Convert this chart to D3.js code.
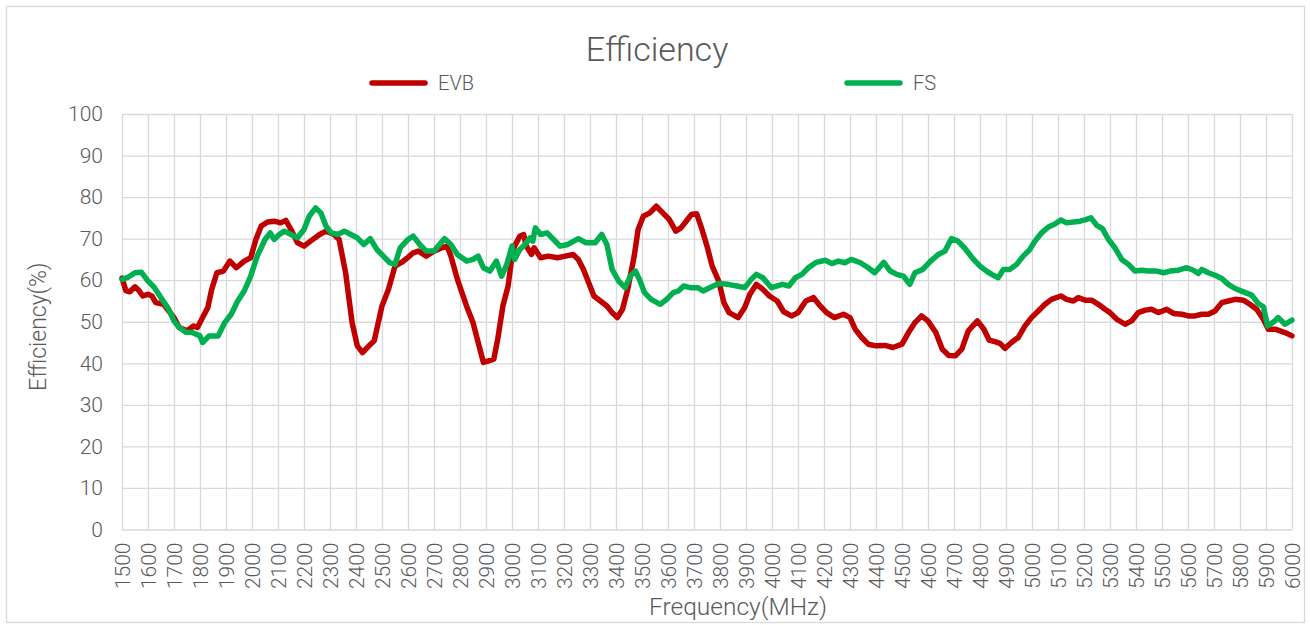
<!DOCTYPE html>
<html>
<head>
<meta charset="utf-8">
<script src="https://cdn.jsdelivr.net/npm/d3@7"></script>
<style>
  html, body { margin: 0; padding: 0; background: #fff; }
  svg { display: block; font-family: Roboto, "Liberation Sans", sans-serif; font-weight: 300; }
</style>
</head>
<body>
<svg id="chart" width="1310" height="625"></svg>
<script>
// ---- data ----
const title = "Efficiency";
const xTitle = "Frequency(MHz)";
const yTitle = "Efficiency(%)";
const seriesNames = ["EVB", "FS"];
const seriesColors = ["#C00000", "#00B050"];
const xTicks = d3.range(1500, 6001, 100);
const yTicks = d3.range(0, 101, 10);

const evbFreq = [1500,1515,1530,1550,1565,1580,1600,1615,1630,1660,1680,1700,1720,1750,1775,1790,1810,1830,1845,1865,1890,1915,1940,1970,1995,2015,2035,2060,2085,2110,2130,2150,2175,2200,2225,2260,2285,2315,2335,2360,2385,2405,2425,2450,2470,2500,2525,2550,2580,2600,2620,2640,2670,2700,2730,2750,2765,2790,2825,2850,2870,2890,2910,2930,2945,2965,2985,3000,3010,3030,3045,3055,3075,3085,3110,3140,3175,3205,3235,3255,3275,3295,3315,3340,3365,3385,3405,3425,3445,3470,3485,3505,3530,3555,3580,3605,3630,3650,3670,3690,3710,3730,3750,3770,3795,3815,3835,3870,3895,3915,3940,3965,3990,4020,4045,4075,4100,4130,4160,4180,4210,4240,4275,4300,4320,4345,4370,4400,4435,4465,4500,4525,4550,4575,4600,4630,4655,4680,4705,4730,4755,4790,4815,4835,4857,4877,4896,4921,4947,4973,4998,5024,5050,5075,5111,5133,5159,5178,5204,5229,5255,5281,5300,5326,5358,5383,5409,5435,5460,5486,5518,5544,5576,5601,5627,5653,5678,5704,5730,5755,5781,5813,5838,5864,5890,5909,5935,5954,5973,6000];
const evbEff = [60.5,57.5,57.2,58.4,57.5,56.2,56.6,56.2,54.6,54.2,52.6,51,48.6,47.8,49,48.6,51,53.4,57.8,61.8,62.2,64.6,63,64.6,65.4,69.8,73,74,74.2,73.8,74.4,72.2,69,68.2,69.4,71,71.8,71,69.8,61.8,49.8,44.2,42.6,44.2,45.4,53.8,57.8,63.4,64.5,65.5,66.6,67,65.8,67,67.8,68.2,65.8,60.2,53.8,49.8,45,40.2,40.6,41,45.8,53.8,58.6,65.8,68.2,70.6,71,68.2,66.2,67.8,65.4,65.8,65.4,65.8,66.2,65,62.6,59.4,56.2,55,53.8,52.2,51,53,57.8,65.8,72.2,75.4,76.2,77.8,76.2,74.6,71.8,72.6,74.2,75.8,76,72.4,68.2,63.4,59.8,54.6,52.2,51,53.4,56.6,59,57.8,56.2,55,52.4,51.4,52.2,55,55.8,54.2,52.2,51,51.8,51,48.2,46.2,44.6,44.2,44.3,43.8,44.6,47.4,49.8,51.4,50.2,47.4,43.4,41.9,41.8,43.4,47.8,50.2,48.2,45.6,45.2,44.8,43.6,45,46.2,49,51,52.6,54.2,55.4,56.2,55.4,55,55.8,55.2,55.2,54.2,53,52.2,50.6,49.4,50.2,52.2,52.8,53,52.2,53,52,51.8,51.4,51.4,51.8,51.8,52.6,54.6,55,55.4,55.2,54.2,53,50.6,48.2,48.2,47.8,47.4,46.6];

const fsFreq = [1500,1520,1550,1575,1600,1625,1650,1680,1700,1720,1745,1770,1800,1810,1835,1870,1895,1920,1945,1970,1995,2020,2050,2070,2085,2105,2125,2150,2175,2200,2220,2245,2265,2285,2305,2330,2355,2380,2405,2430,2455,2480,2505,2530,2550,2570,2600,2620,2645,2670,2700,2740,2765,2790,2825,2850,2870,2890,2915,2940,2960,2980,3000,3010,3030,3050,3070,3080,3090,3110,3135,3160,3185,3215,3255,3285,3320,3345,3365,3385,3410,3435,3455,3475,3490,3510,3535,3570,3595,3620,3640,3660,3685,3715,3735,3760,3795,3830,3865,3895,3920,3940,3965,3998,4040,4065,4090,4115,4140,4170,4205,4230,4255,4280,4305,4340,4370,4395,4430,4455,4480,4505,4530,4550,4580,4610,4640,4665,4690,4715,4740,4770,4800,4825,4845,4870,4890,4915,4941,4966,4992,5011,5037,5063,5088,5111,5133,5159,5185,5204,5227,5249,5271,5294,5319,5345,5371,5396,5422,5448,5480,5506,5531,5563,5595,5621,5640,5653,5678,5704,5730,5755,5781,5813,5845,5870,5890,5906,5928,5947,5973,6000];
const fsEff = [60.2,60.6,61.8,61.9,59.8,58.2,55.8,53,50.2,48.6,47.5,47.4,46.6,45,46.6,46.6,49.8,51.8,55,57.4,61,65.8,69.8,71.4,69.8,71,71.8,71,70.2,72.2,75.4,77.4,76.2,73,71.4,71,71.8,71,70.2,68.6,70,67.4,65.8,64.2,63.8,67.8,69.8,70.6,68.6,67,67,70,68.6,66.2,64.6,65,65.8,63,62.2,64.6,61,63.8,68.2,65,67.4,68.6,70.2,69.4,72.6,71,71.4,69.8,68.2,68.6,70,69,69,71,68.6,62.6,59.8,58.2,61,62.2,60.2,57,55.4,54.2,55.4,57,57.4,58.6,58.2,58.2,57.4,58.2,59.2,59,58.6,58.2,60.2,61.4,60.6,58.2,59,58.6,60.6,61.4,63,64.3,64.8,64,64.6,64.2,65,64.2,63,61.8,64.3,62.2,61.4,61,59,61.8,62.6,64.6,66.2,67,70,69.4,67.8,65.4,63.4,62.2,61.4,60.6,62.6,62.6,63.8,65.8,67.4,69.4,71.4,72.8,73.5,74.5,73.8,74,74.2,74.5,75,73.2,72.4,69.8,67.8,65,63.8,62.2,62.4,62.2,62.2,61.8,62.2,62.4,63,62.4,61.6,62.6,61.8,61.2,60.4,59,58,57.2,56.4,54.4,53.6,49,49.9,51,49.4,50.4];

// ---- layout ----
const svg = d3.select("#chart");
const plot = { left: 122, right: 1292, top: 114, bottom: 529.5 };
const x = d3.scaleLinear().domain([1500, 6000]).range([plot.left, plot.right]);
const y = d3.scaleLinear().domain([0, 100]).range([plot.bottom, plot.top]);
const textColor = "#595959";
const gridColor = "#D9D9D9";
const font = "Roboto, sans-serif";

// outer border
svg.append("rect").attr("x", 6.5).attr("y", 6.5).attr("width", 1298).attr("height", 616)
  .attr("fill", "#fff").attr("stroke", gridColor).attr("stroke-width", 1.3);

// y axis with horizontal gridlines
const yAxis = svg.append("g").attr("transform", `translate(${plot.left},0)`)
  .call(d3.axisLeft(y).tickValues(yTicks).tickSize(-(plot.right - plot.left)).tickPadding(19).tickFormat(d3.format("d")));
yAxis.select(".domain").remove();
yAxis.selectAll(".tick line").attr("stroke", gridColor).attr("stroke-width", 1.3);
yAxis.selectAll(".tick text").attr("fill", textColor).attr("font-size", 21).attr("font-family", font).attr("font-weight", 300);

// x axis with vertical gridlines
const xAxis = svg.append("g").attr("transform", `translate(0,${plot.bottom})`)
  .call(d3.axisBottom(x).tickValues(xTicks).tickSize(-(plot.bottom - plot.top)).tickFormat(d3.format("d")));
xAxis.select(".domain").remove();
xAxis.selectAll(".tick line").attr("stroke", gridColor).attr("stroke-width", 1.3);
xAxis.selectAll(".tick text")
  .attr("fill", textColor).attr("font-size", 21).attr("font-family", font).attr("font-weight", 300)
  .attr("transform", "translate(0,13) rotate(-90)")
  .attr("text-anchor", "end").attr("dy", "0.35em").attr("x", 0).attr("y", 0);

// lines
const line = d3.line().x(d => x(d[0])).y(d => y(d[1])).curve(d3.curveLinear);
const evbData = d3.zip(evbFreq, evbEff);
const fsData = d3.zip(fsFreq, fsEff);
[evbData, fsData].forEach((data, i) => {
  svg.append("path").datum(data).attr("d", line)
    .attr("fill", "none").attr("stroke", seriesColors[i]).attr("stroke-width", 5.5)
    .attr("stroke-linejoin", "round").attr("stroke-linecap", "round");
});

// title
svg.append("text").attr("x", 657).attr("y", 61).attr("text-anchor", "middle")
  .attr("font-size", 34).attr("fill", textColor).text(title);

// legend
const legendX = [372, 847];
seriesNames.forEach((name, i) => {
  svg.append("line").attr("x1", legendX[i]).attr("x2", legendX[i] + 53)
    .attr("y1", 83).attr("y2", 83).attr("stroke", seriesColors[i]).attr("stroke-width", 5.5)
    .attr("stroke-linecap", "round");
  svg.append("text").attr("x", legendX[i] + 66).attr("y", 83).attr("dy", "0.35em")
    .attr("font-size", 20).attr("fill", textColor).text(name);
});

// axis titles
svg.append("text").attr("transform", `translate(46,${(plot.top + plot.bottom) / 2 + 5}) rotate(-90)`)
  .attr("text-anchor", "middle").attr("font-size", 23).attr("fill", textColor).text(yTitle);
svg.append("text").attr("x", 738).attr("y", 615).attr("text-anchor", "middle")
  .attr("font-size", 24.5).attr("fill", textColor).text(xTitle);
</script>
</body>
</html>
